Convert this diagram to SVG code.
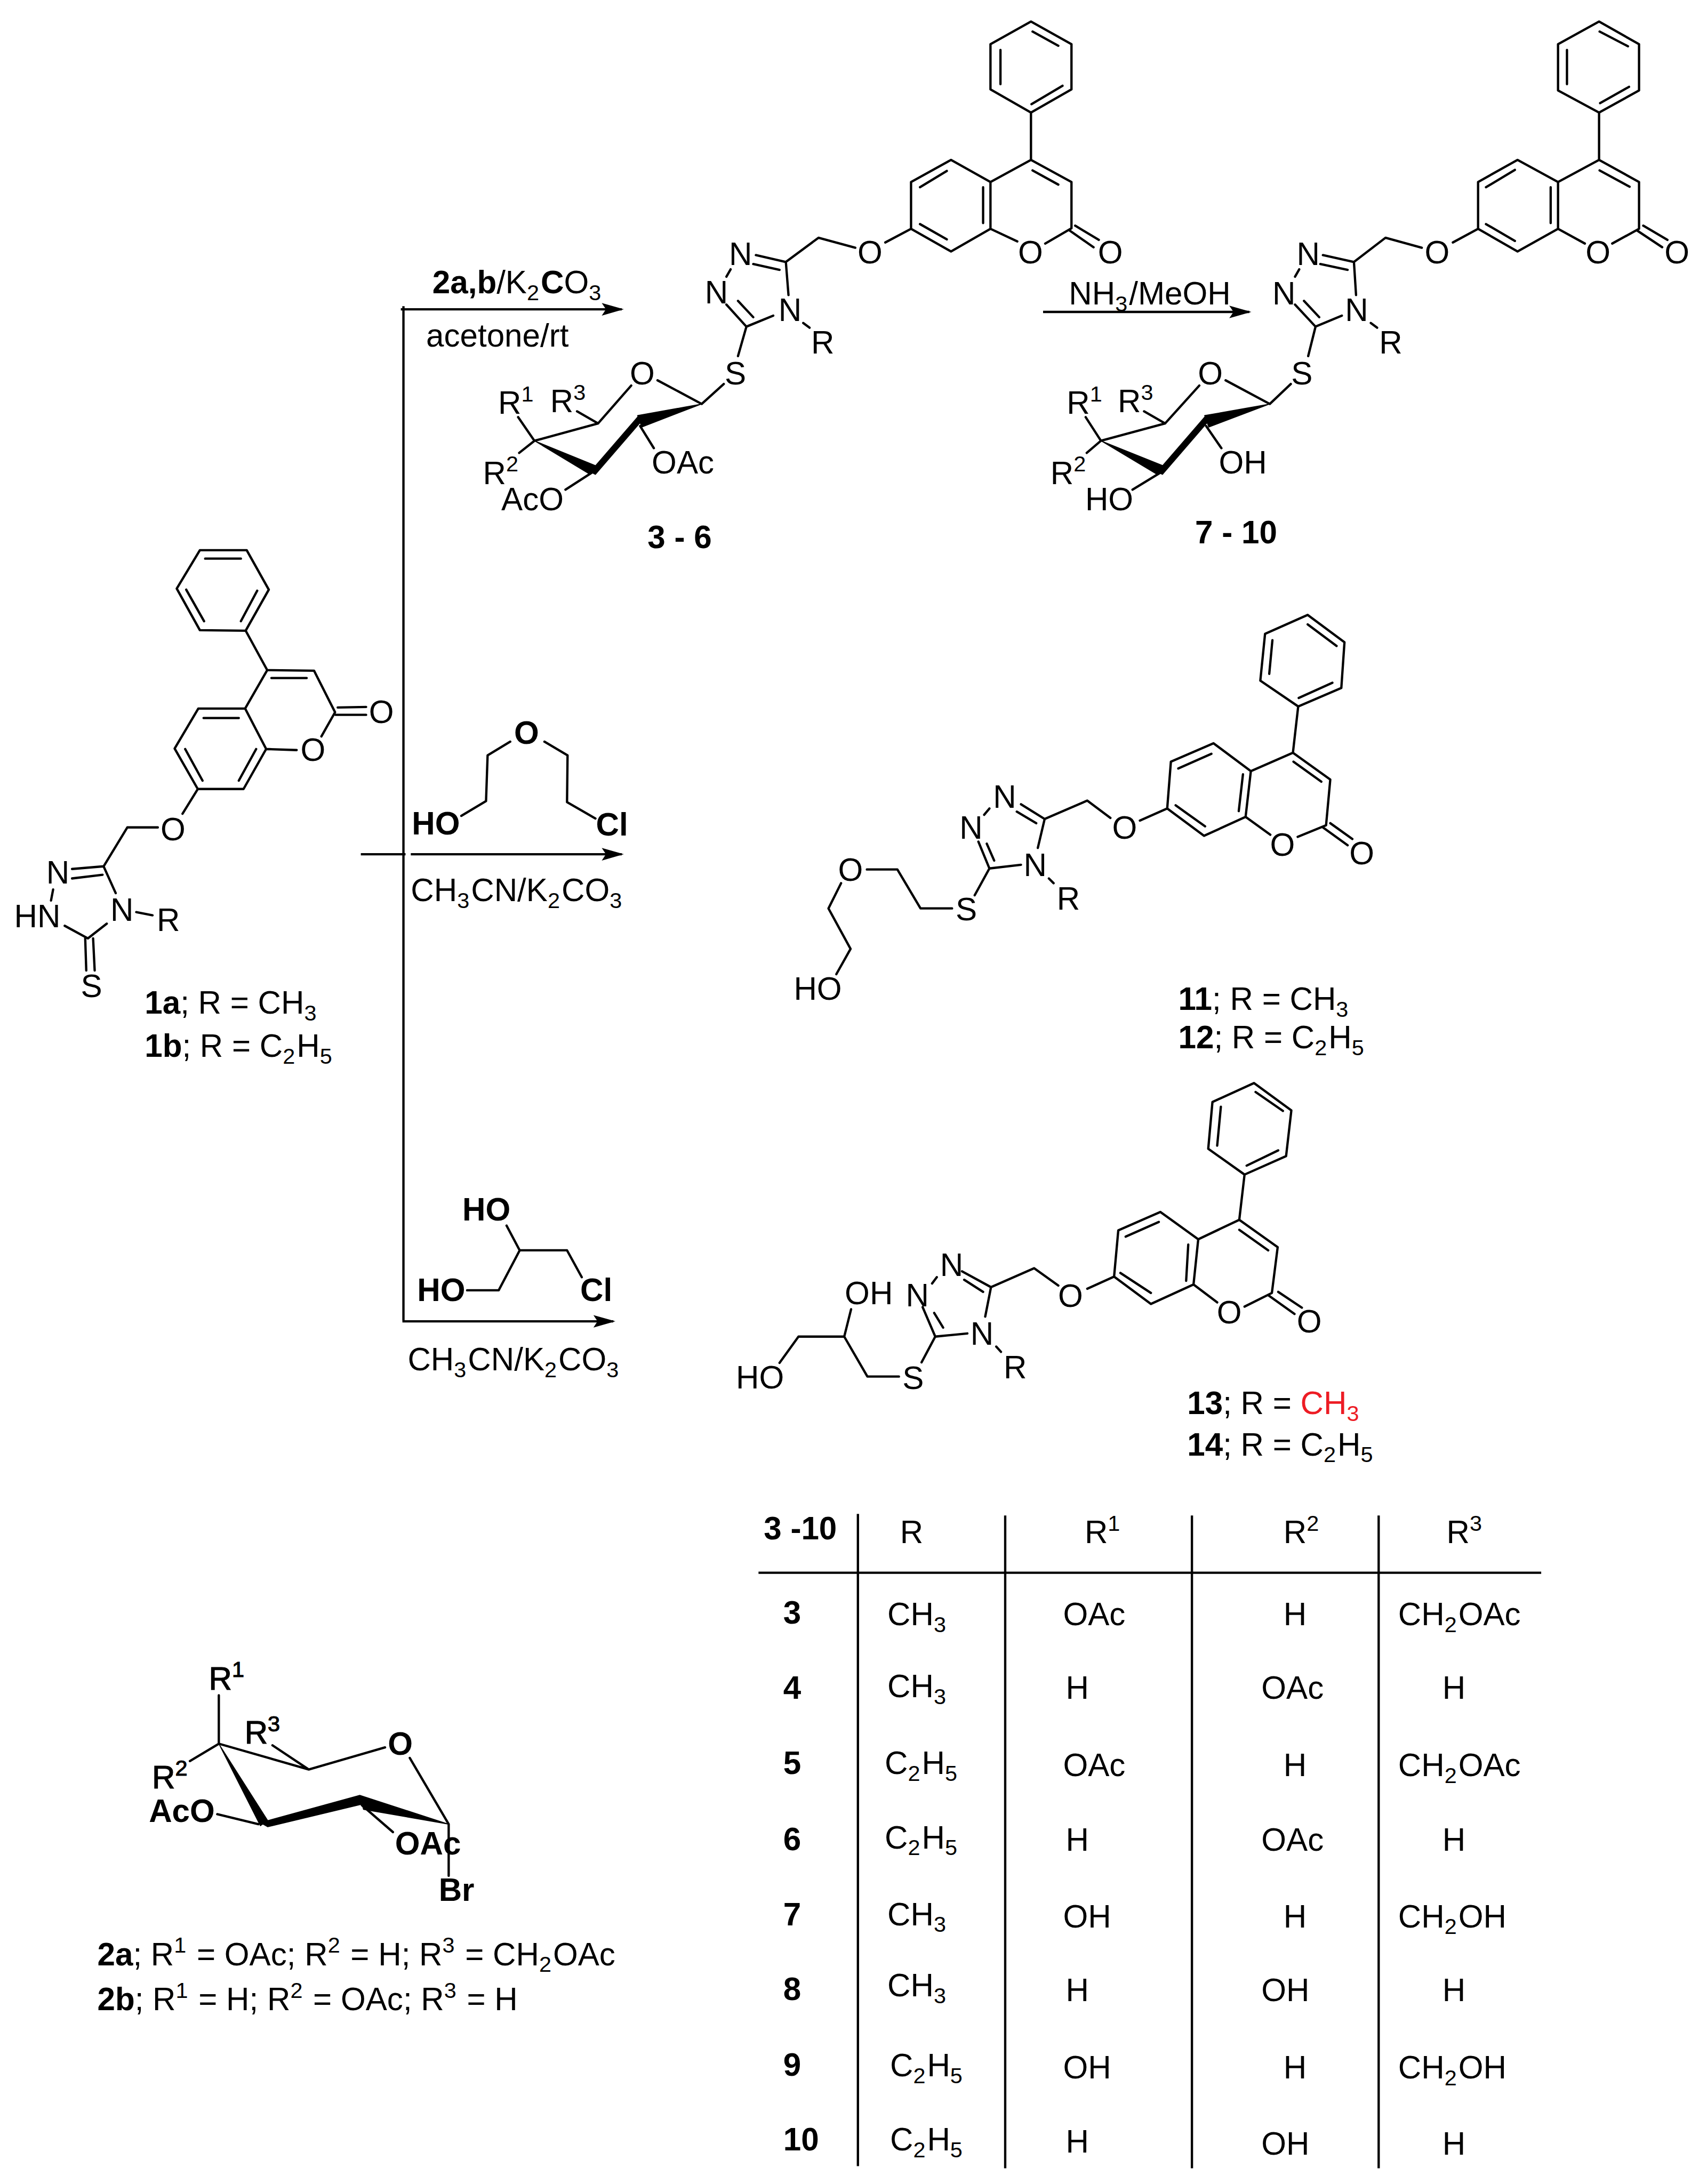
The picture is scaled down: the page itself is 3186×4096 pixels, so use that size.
<svg xmlns="http://www.w3.org/2000/svg" width="3186" height="4096" viewBox="0 0 3186 4096">
<style>
text{font-family:"Liberation Sans",Arial,sans-serif;font-size:61px;fill:#000}
.c{text-anchor:middle}
.h{font-weight:bold}
.m{stroke:#000;stroke-width:1.2}
.sb,.sp{font-size:42px;letter-spacing:3px}
.bd{fill:none;stroke:#000;stroke-width:4.4;stroke-linecap:round;stroke-linejoin:round}
.ar{fill:none;stroke:#000;stroke-width:4.4}
.w{fill:#000;stroke:#000;stroke-width:1.5;stroke-linejoin:round}
</style>
<defs>
<marker id="head" markerUnits="userSpaceOnUse" markerWidth="46" markerHeight="28" refX="38" refY="14" orient="auto"><path d="M0,2 L42,14 L0,26 L8,14 Z" fill="#000"/></marker>
</defs>
<rect width="3186" height="4096" fill="#fff"/>
<g transform="scale(0.98638,0.98651)">

<g id="connectors">
<path class="ar" d="M767,582 V2510"/>
<path class="ar" d="M762,588 H1182" marker-end="url(#head)"/>
<path class="ar" d="M686,1624 H771 M781,1624 H1182" marker-end="url(#head)"/>
<path class="ar" d="M765,2512 H1166" marker-end="url(#head)"/>
<path class="ar" d="M1983,593 H2375" marker-end="url(#head)"/>
</g>

<g id="compound-1">
<path class="bd" d="M380,1046 L469,1046 L511,1121 L467,1199 L380,1198 L336,1119 Z M390,1062 L458,1062 M354,1121 L388,1181 M458,1181 L489,1123 M467,1199 L508,1274 L597,1275 L637,1354 L611,1400 M516,1289 L583,1289 M508,1274 L466,1347 L506,1424 L564,1426 M466,1347 L377,1347 L332,1423 L376,1500 L463,1500 L506,1424 M387,1365 L454,1365 M352,1424 L385,1484 M454,1484 L487,1424 M642,1345 L696,1344 M638,1359 L696,1359 M376,1500 L347,1547 M300,1573 L242,1573 L197,1647 L137,1652 M195,1663 L137,1670 M101,1691 L97,1712 M197,1647 L220,1698 M259,1734 L290,1740 M123,1760 L167,1784 L203,1756 M162,1784 L164,1845 M177,1784 L180,1845"/>
<text class="c" x="725" y="1375">O</text>
<text class="c" x="595" y="1447">O</text>
<text class="c" x="329" y="1598">O</text>
<text class="c" x="110" y="1680">N</text>
<text x="27" y="1763">HN</text>
<text class="c" x="232" y="1751">N</text>
<text x="298" y="1770">R</text>
<text class="c" x="174" y="1896">S</text>
<text x="275" y="1927"><tspan class="h">1a</tspan>; R = CH<tspan class="sb" dy="13">3</tspan></text>
<text x="275" y="2009"><tspan class="h">1b</tspan>; R = C<tspan class="sb" dy="13">2</tspan><tspan dy="-13">H</tspan><tspan class="sb" dy="13">5</tspan></text>
</g>

<g id="reagent-2a-b">
<text x="822" y="558"><tspan class="h">2a,b</tspan>/K<tspan class="sb" dy="13">2</tspan><tspan class="h" dy="-13">C</tspan>O<tspan class="sb" dy="13">3</tspan></text>
<text x="810" y="659">acetone/rt</text>
</g>

<g id="compound-3-6">
<path class="bd" d="M1960,41 L2037,84 L2037,170 L1960,214 L1883,170 L1883,84 Z M1963,60 L2012,87 M1902,95 L1902,160 M1961,198 L2020,163 M1960,214 L1960,304 L2037,346 L2037,434 L1987,463 M1963,324 L2012,351 M1960,304 L1883,346 L1883,435 L1934,459 M1883,346 L1808,304 L1732,346 L1732,435 L1808,478 L1883,435 M1749,356 L1800,325 M1869,356 L1869,424 M1749,426 L1800,455 M2033,438 L2079,470 M2044,429 L2089,456 M1732,435 L1683,461 M1626,471 L1556,452 L1494,498 L1437,485 M1482,513 L1432,502 M1389,512 L1381,526 M1381,579 L1419,621 L1470,600 M1403,572 L1432,603 M1499,561 L1494,498 M1527,614 L1539,623 M1419,621 L1403,677 M1376,730 L1334,768 L1250,723 M1200,733 L1137,805 L1097,782 M1137,805 L1016,838 L985,793 M1016,838 L987,861 M1217,810 L1243,852 M1126,898 L1075,931"/>
<path class="w" d="M1016,838 L1132,885 L1122,902 Z M1122,897 L1212,793 L1220,800 L1132,902 Z M1212,790 L1334,768 L1220,812 Z"/>
<text class="c" x="2111" y="501">O</text>
<text class="c" x="1959" y="501">O</text>
<text class="c" x="1654" y="501">O</text>
<text class="c" x="1408" y="504">N</text>
<text class="c" x="1362" y="577">N</text>
<text class="c" x="1502" y="610">N</text>
<text x="1542" y="672">R</text>
<text class="c" x="1398" y="731">S</text>
<text class="c" x="1221" y="731">O</text>
<text x="947" y="787">R<tspan class="sp" dy="-24">1</tspan></text>
<text x="1046" y="784">R<tspan class="sp" dy="-24">3</tspan></text>
<text x="918" y="920">R<tspan class="sp" dy="-24">2</tspan></text>
<text x="1239" y="900">OAc</text>
<text x="953" y="970">AcO</text>
<text class="h" x="1231" y="1042">3 - 6</text>
</g>

<g id="reagent-nh3">
<text x="2032" y="579">NH<tspan class="sb" dy="13">3</tspan><tspan dy="-13">/MeOH</tspan></text>
</g>

<g id="compound-7-10">
<path class="bd" d="M3040,41 L3116,84 L3116,172 L3040,214 L2962,172 L2962,84 Z M3041,60 L3095,88 M2979,95 L2979,160 M3042,196 L3097,165 M3040,214 L3040,304 L3116,346 L3116,435 L3065,463 M3041,324 L3098,355 M3040,304 L2962,346 L2962,435 L3013,463 M2962,346 L2885,304 L2810,346 L2810,435 L2885,478 L2962,435 M2825,356 L2880,323 M2948,356 L2948,424 M2825,426 L2880,458 M3112,438 L3160,470 M3124,429 L3170,456 M2810,435 L2762,461 M2703,471 L2634,452 L2574,498 L2515,485 M2562,513 L2510,502 M2470,512 L2462,526 M2462,579 L2501,621 L2551,600 M2479,572 L2508,603 M2578,561 L2574,498 M2606,614 L2618,623 M2501,621 L2487,677 M2454,730 L2414,768 L2330,723 M2280,733 L2215,805 L2175,782 M2215,805 L2093,838 L2064,793 M2093,838 L2066,861 M2293,810 L2322,852 M2207,898 L2153,931"/>
<path class="w" d="M2093,838 L2210,885 L2200,902 Z M2200,897 L2290,793 L2298,800 L2210,902 Z M2290,790 L2414,768 L2298,812 Z"/>
<text class="c" x="3188" y="501">O</text>
<text class="c" x="3038" y="501">O</text>
<text class="c" x="2732" y="501">O</text>
<text class="c" x="2487" y="504">N</text>
<text class="c" x="2441" y="579">N</text>
<text class="c" x="2579" y="610">N</text>
<text x="2622" y="672">R</text>
<text class="c" x="2475" y="731">S</text>
<text class="c" x="2301" y="731">O</text>
<text x="2028" y="787">R<tspan class="sp" dy="-24">1</tspan></text>
<text x="2125" y="784">R<tspan class="sp" dy="-24">3</tspan></text>
<text x="1997" y="920">R<tspan class="sp" dy="-24">2</tspan></text>
<text x="2317" y="900">OH</text>
<text x="2063" y="970">HO</text>
<text class="h" x="2272" y="1033">7 - 10</text>
</g>

<g id="reagent-chloroethoxyethanol">
<path class="bd" d="M877,1551 L924,1523 L927,1436 L970,1410 M1035,1410 L1079,1436 L1078,1525 L1132,1556"/>
<text class="c h" x="1001" y="1414">O</text>
<text class="h" x="783" y="1586">HO</text>
<text class="h" x="1133" y="1588">Cl</text>
<text x="781" y="1713">CH<tspan class="sb" dy="13">3</tspan><tspan dy="-13">CN/K</tspan><tspan class="sb" dy="13">2</tspan><tspan dy="-13">CO</tspan><tspan class="sb" dy="13">3</tspan></text>
</g>

<g id="compound-11-12">
<path class="bd" d="M2486,1169 L2556,1221 L2550,1308 L2468,1343 L2396,1294 L2405,1205 Z M2486,1187 L2541,1228 M2419,1217 L2413,1281 M2469,1327 L2533,1298 M2468,1343 L2458,1431 L2529,1482 L2521,1569 L2467,1591 M2459,1448 L2512,1486 M2458,1431 L2378,1466 L2368,1553 L2415,1587 M2378,1466 L2307,1413 L2226,1448 L2219,1537 L2289,1589 L2368,1553 M2240,1461 L2303,1433 M2363,1472 L2355,1542 M2235,1531 L2291,1571 M2515,1573 L2562,1607 M2529,1565 L2571,1595 M2219,1537 L2167,1560 M2111,1555 L2067,1522 L1986,1557 L1941,1529 M1970,1565 L1933,1543 M1881,1537 L1871,1549 M1860,1600 L1881,1651 L1941,1644 M1876,1604 L1890,1636 M1973,1612 L1986,1557 M1994,1670 L2003,1679 M1881,1651 L1853,1702 M1810,1727 L1750,1727 L1706,1653 L1648,1653 M1599,1679 L1575,1727 L1617,1804 L1590,1852"/>
<text class="c" x="2589" y="1643">O</text>
<text class="c" x="2438" y="1627">O</text>
<text class="c" x="2138" y="1595">O</text>
<text class="c" x="1910" y="1536">N</text>
<text class="c" x="1846" y="1595">N</text>
<text class="c" x="1968" y="1665">N</text>
<text x="2009" y="1729">R</text>
<text class="c" x="1837" y="1750">S</text>
<text class="c" x="1617" y="1675">O</text>
<text x="1509" y="1901">HO</text>
<text x="2240" y="1920"><tspan class="h">11</tspan>; R = CH<tspan class="sb" dy="13">3</tspan></text>
<text x="2240" y="1993"><tspan class="h">12</tspan>; R = C<tspan class="sb" dy="13">2</tspan><tspan dy="-13">H</tspan><tspan class="sb" dy="13">5</tspan></text>
</g>

<g id="reagent-chloropropanediol">
<path class="bd" d="M963,2330 L988,2377 L1078,2377 L1106,2428 M988,2377 L948,2453 L888,2453"/>
<text class="h" x="879" y="2320">HO</text>
<text class="h" x="793" y="2473">HO</text>
<text class="h" x="1103" y="2473">Cl</text>
<text x="775" y="2605">CH<tspan class="sb" dy="13">3</tspan><tspan dy="-13">CN/K</tspan><tspan class="sb" dy="13">2</tspan><tspan dy="-13">CO</tspan><tspan class="sb" dy="13">3</tspan></text>
</g>

<g id="compound-13-14">
<path class="bd" d="M2384,2059 L2455,2111 L2445,2198 L2366,2233 L2297,2184 L2305,2095 Z M2387,2076 L2439,2112 M2321,2104 L2314,2178 M2370,2216 L2430,2187 M2366,2233 L2356,2319 L2429,2371 L2418,2458 L2366,2484 M2356,2338 L2411,2377 M2356,2319 L2278,2356 L2269,2442 L2314,2476 M2278,2356 L2206,2304 L2126,2339 L2118,2427 L2188,2479 L2269,2442 M2140,2351 L2203,2323 M2259,2366 L2255,2435 M2130,2420 L2188,2458 M2412,2463 L2461,2498 M2430,2456 L2475,2486 M2118,2427 L2067,2450 M2012,2444 L1966,2411 L1884,2447 L1829,2417 M1869,2456 L1833,2433 M1781,2428 L1772,2440 M1754,2485 L1778,2541 L1839,2535 M1776,2496 L1793,2524 M1873,2503 L1884,2447 M1894,2560 L1903,2570 M1778,2541 L1752,2590 M1709,2617 L1649,2617 L1605,2541 L1618,2489 M1605,2541 L1518,2541 L1482,2591"/>
<text class="c" x="2489" y="2533">O</text>
<text class="c" x="2337" y="2516">O</text>
<text class="c" x="2035" y="2485">O</text>
<text class="c" x="1809" y="2426">N</text>
<text class="c" x="1744" y="2484">N</text>
<text class="c" x="1867" y="2556">N</text>
<text x="1908" y="2620">R</text>
<text class="c" x="1736" y="2641">S</text>
<text x="1606" y="2479">OH</text>
<text x="1399" y="2640">HO</text>
<text x="2257" y="2688"><tspan class="h">13</tspan>; R = <tspan fill="#ed1c24">CH</tspan><tspan class="sb" dy="13" fill="#ed1c24">3</tspan></text>
<text x="2257" y="2767"><tspan class="h">14</tspan>; R = C<tspan class="sb" dy="13">2</tspan><tspan dy="-13">H</tspan><tspan class="sb" dy="13">5</tspan></text>
</g>

<g id="compound-2">
<path class="bd" d="M416,3315 L416,3223 M416,3315 L361,3348 M416,3315 L587,3364 L518,3318 M587,3364 L732,3322 M779,3342 L853,3468 L853,3566 M688,3432 L747,3483 M491,3468 L413,3449"/>
<path class="w" d="M416,3315 L509,3461 L495,3471 Z M495,3465 L684,3413 L688,3430 L509,3473 Z M684,3413 L853,3468 L691,3440 Z"/>
<text class="m" x="397" y="3212">R<tspan class="sp" dy="-24">1</tspan></text>
<text class="m" x="465" y="3315">R<tspan class="sp" dy="-24">3</tspan></text>
<text class="m" x="289" y="3400">R<tspan class="sp" dy="-24">2</tspan></text>
<text class="h" x="283" y="3464">AcO</text>
<text class="h" x="751" y="3526">OAc</text>
<text class="h" x="834" y="3614">Br</text>
<text class="c h" x="761" y="3336">O</text>
<text x="185" y="3736"><tspan class="h">2a</tspan>; R<tspan class="sp" dy="-24">1</tspan><tspan dy="24"> = OAc; R</tspan><tspan class="sp" dy="-24">2</tspan><tspan dy="24"> = H; R</tspan><tspan class="sp" dy="-24">3</tspan><tspan dy="24"> = CH</tspan><tspan class="sb" dy="13">2</tspan><tspan dy="-13">OAc</tspan></text>
<text x="185" y="3822"><tspan class="h">2b</tspan>; R<tspan class="sp" dy="-24">1</tspan><tspan dy="24"> = H; R</tspan><tspan class="sp" dy="-24">2</tspan><tspan dy="24"> = OAc; R</tspan><tspan class="sp" dy="-24">3</tspan><tspan dy="24"> = H</tspan></text>
</g>

<g id="table-3-10">
<path class="ar" d="M1631,2878 V4118 M1911,2881 V4122 M2266,2881 V4122 M2621,2881 V4122 M1442,2990 H2930"/>
<text class="h" x="1452" y="2926">3 -10</text>
<text x="1711" y="2934">R</text>
<text x="2062" y="2934">R<tspan class="sp" dy="-24">1</tspan></text>
<text x="2440" y="2934">R<tspan class="sp" dy="-24">2</tspan></text>
<text x="2750" y="2934">R<tspan class="sp" dy="-24">3</tspan></text>

<text class="h" x="1489" y="3087">3</text>
<text class="h" x="1489" y="3230">4</text>
<text class="h" x="1489" y="3373">5</text>
<text class="h" x="1489" y="3517">6</text>
<text class="h" x="1489" y="3660">7</text>
<text class="h" x="1489" y="3802">8</text>
<text class="h" x="1489" y="3946">9</text>
<text class="h" x="1489" y="4088">10</text>

<text x="1687" y="3090">CH<tspan class="sb" dy="13">3</tspan></text>
<text x="1687" y="3227">CH<tspan class="sb" dy="13">3</tspan></text>
<text x="1682" y="3373">C<tspan class="sb" dy="13">2</tspan><tspan dy="-13">H</tspan><tspan class="sb" dy="13">5</tspan></text>
<text x="1682" y="3514">C<tspan class="sb" dy="13">2</tspan><tspan dy="-13">H</tspan><tspan class="sb" dy="13">5</tspan></text>
<text x="1687" y="3660">CH<tspan class="sb" dy="13">3</tspan></text>
<text x="1687" y="3795">CH<tspan class="sb" dy="13">3</tspan></text>
<text x="1692" y="3947">C<tspan class="sb" dy="13">2</tspan><tspan dy="-13">H</tspan><tspan class="sb" dy="13">5</tspan></text>
<text x="1692" y="4088">C<tspan class="sb" dy="13">2</tspan><tspan dy="-13">H</tspan><tspan class="sb" dy="13">5</tspan></text>

<text x="2021" y="3090">OAc</text>
<text x="2026" y="3230">H</text>
<text x="2021" y="3377">OAc</text>
<text x="2026" y="3518">H</text>
<text x="2021" y="3664">OH</text>
<text x="2026" y="3804">H</text>
<text x="2021" y="3951">OH</text>
<text x="2026" y="4092">H</text>

<text x="2440" y="3090">H</text>
<text x="2398" y="3230">OAc</text>
<text x="2440" y="3377">H</text>
<text x="2398" y="3518">OAc</text>
<text x="2440" y="3664">H</text>
<text x="2398" y="3804">OH</text>
<text x="2440" y="3951">H</text>
<text x="2398" y="4096">OH</text>

<text x="2658" y="3090">CH<tspan class="sb" dy="13">2</tspan><tspan dy="-13">OAc</tspan></text>
<text x="2742" y="3230">H</text>
<text x="2658" y="3377">CH<tspan class="sb" dy="13">2</tspan><tspan dy="-13">OAc</tspan></text>
<text x="2742" y="3518">H</text>
<text x="2658" y="3664">CH<tspan class="sb" dy="13">2</tspan><tspan dy="-13">OH</tspan></text>
<text x="2742" y="3804">H</text>
<text x="2658" y="3951">CH<tspan class="sb" dy="13">2</tspan><tspan dy="-13">OH</tspan></text>
<text x="2742" y="4096">H</text>
</g>
</g>
</svg>
